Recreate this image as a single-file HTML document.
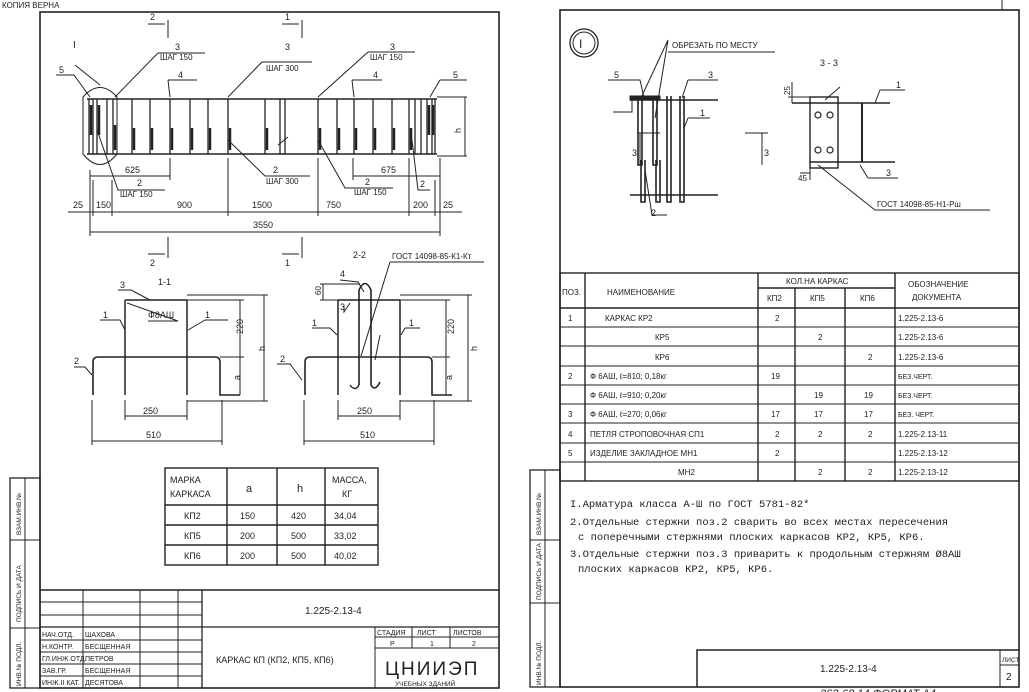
<!DOCTYPE html>
<html><head><meta charset="utf-8"><style>
html,body{margin:0;padding:0;background:#fff;}
svg{display:block;}
text{font-family:"Liberation Sans",sans-serif;fill:#222;}
.m{font-family:"Liberation Mono",monospace;}
</style></head><body>
<svg width="1029" height="692" viewBox="0 0 1029 692" xmlns="http://www.w3.org/2000/svg">
<rect width="1029" height="692" fill="#fff"/>
<g stroke="#222" fill="none" stroke-width="1">
<!-- LEFT SHEET FRAME -->
<rect x="40" y="12" width="459" height="676" stroke-width="1.6"/>
<rect x="10" y="478" width="30" height="210" stroke-width="1.3"/>
<line x1="25" y1="478" x2="25" y2="688"/>
<line x1="10" y1="540" x2="40" y2="540"/>
<line x1="10" y1="628" x2="40" y2="628"/>
<!-- title block -->
<line x1="40" y1="590" x2="499" y2="590" stroke-width="1.5"/>
<line x1="40" y1="602" x2="202" y2="602"/>
<line x1="40" y1="615" x2="202" y2="615"/>
<line x1="40" y1="627" x2="499" y2="627" stroke-width="1.3"/>
<line x1="40" y1="640" x2="202" y2="640"/>
<line x1="40" y1="652" x2="202" y2="652"/>
<line x1="40" y1="664" x2="202" y2="664"/>
<line x1="40" y1="676" x2="202" y2="676"/>
<line x1="83" y1="590" x2="83" y2="688"/>
<line x1="140" y1="590" x2="140" y2="688"/>
<line x1="178" y1="590" x2="178" y2="688"/>
<line x1="202" y1="590" x2="202" y2="688" stroke-width="1.3"/>
<line x1="375" y1="627" x2="375" y2="688"/>
<line x1="375" y1="637" x2="499" y2="637"/>
<line x1="375" y1="648" x2="499" y2="648"/>
<line x1="412" y1="627" x2="412" y2="648"/>
<line x1="450" y1="627" x2="450" y2="648"/>

<!-- MAIN ELEVATION -->
<line x1="87" y1="99" x2="437" y2="99" stroke-width="1.6"/>
<line x1="87" y1="154" x2="437" y2="154" stroke-width="1.6"/>
<g stroke-width="1.3">
<line x1="89" y1="99" x2="89" y2="154"/><line x1="93" y1="99" x2="93" y2="154"/>
<line x1="97" y1="99" x2="97" y2="154"/><line x1="107" y1="99" x2="107" y2="154"/>
<line x1="113" y1="99" x2="113" y2="154"/><line x1="132" y1="99" x2="132" y2="154"/>
<line x1="150" y1="99" x2="150" y2="154"/><line x1="170" y1="99" x2="170" y2="154"/>
<line x1="190" y1="99" x2="190" y2="154"/><line x1="208" y1="99" x2="208" y2="154"/>
<line x1="228" y1="99" x2="228" y2="154"/><line x1="265" y1="99" x2="265" y2="154"/>
<line x1="280" y1="99" x2="280" y2="154"/><line x1="285" y1="99" x2="285" y2="154"/>
<line x1="318" y1="99" x2="318" y2="154"/><line x1="337" y1="99" x2="337" y2="154"/>
<line x1="354" y1="99" x2="354" y2="154"/><line x1="373" y1="99" x2="373" y2="154"/>
<line x1="392" y1="99" x2="392" y2="154"/><line x1="409" y1="99" x2="409" y2="154"/>
<line x1="415" y1="99" x2="415" y2="154"/><line x1="421" y1="99" x2="421" y2="154"/>
<line x1="427" y1="99" x2="427" y2="154"/><line x1="432" y1="99" x2="432" y2="154"/>
<line x1="435" y1="99" x2="435" y2="154"/>
</g>
<g stroke-width="2.5">
<line x1="91" y1="105" x2="91" y2="135"/><line x1="99" y1="105" x2="99" y2="135"/>
<line x1="115" y1="125" x2="115" y2="150"/><line x1="134" y1="128" x2="134" y2="150"/>
<line x1="152" y1="128" x2="152" y2="150"/><line x1="172" y1="128" x2="172" y2="150"/>
<line x1="192" y1="128" x2="192" y2="150"/><line x1="210" y1="128" x2="210" y2="150"/>
<line x1="230" y1="128" x2="230" y2="150"/><line x1="267" y1="128" x2="267" y2="150"/>
<line x1="320" y1="128" x2="320" y2="150"/><line x1="339" y1="128" x2="339" y2="150"/>
<line x1="356" y1="128" x2="356" y2="150"/><line x1="375" y1="128" x2="375" y2="150"/>
<line x1="394" y1="128" x2="394" y2="150"/><line x1="411" y1="128" x2="411" y2="150"/>
<line x1="429" y1="105" x2="429" y2="135"/><line x1="433" y1="105" x2="433" y2="135"/>
</g>
<path d="M278 145 L288 137"/>
<path d="M83 97 Q100 78 117 97 L117 154 Q100 175 83 154 Z"/>
<!-- leaders -->
<path d="M56 75 L74 75 L90 97"/><path d="M75 65 L100 85"/>
<path d="M158 53 L205 53 M158 53 L115 97"/><path d="M168 80 L197 80 M168 80 L170 97"/>
<path d="M262 62 L312 62 M262 62 L228 97"/><path d="M368 52 L415 52 M368 52 L318 97"/>
<path d="M352 80 L382 80 M352 80 L354 97"/><path d="M440 80 L467 80 M440 80 L430 97"/>
<path d="M97 130 L118 190 L165 190"/><path d="M228 140 L265 176 L310 176"/>
<path d="M318 140 L345 188 L393 188"/><path d="M412 140 L418 190 L430 190"/>
<!-- dims -->
<path d="M90 176 L170 176 M90 170 L90 180 M170 158 L170 180"/>
<path d="M353 176 L440 176 M353 158 L353 180 M440 158 L440 180"/>
<path d="M437 97 L467 97 M437 156 L467 156 M465 97 L465 156"/>
<path d="M68 212 L462 212"/>
<path d="M90 180 L90 236 M93 180 L93 216 M112 180 L112 216 M228 158 L228 216 M318 158 L318 216 M409 158 L409 216 M435 180 L435 216 M440 180 L440 236"/>
<path d="M90 232 L440 232"/>
<!-- section marks -->
<path d="M168 20 L168 38 M302 20 L302 38 M168 237 L168 258 M302 237 L302 258"/>
<path d="M148 24 L165 24 M282 24 L299 24 M148 254 L165 254 M282 254 L299 254"/>

<!-- SECTION 1-1 -->
<line x1="125" y1="300" x2="187" y2="300" stroke-width="1.6"/>
<line x1="125" y1="300" x2="125" y2="395" stroke-width="1.5"/>
<line x1="187" y1="300" x2="187" y2="395" stroke-width="1.5"/>
<path d="M93 395 L93 362 Q93 357 98 357 L215 357 Q220 357 220 362 L220 395 L240 395" stroke-width="1.6"/>
<path d="M125 400 L125 420 M187 400 L187 420 M125 416 L187 416"/>
<path d="M92 400 L92 445 M222 400 L222 445 M92 441 L222 441"/>
<path d="M187 300 L244 300 M220 357 L244 357 M240 300 L240 395"/>
<path d="M187 295 L268 295 M187 401 L268 401 M264 295 L264 401"/>
<path d="M100 320 L120 320 L125 330"/><path d="M205 320 L228 320 M205 320 L188 330"/>
<path d="M74 367 L85 367 L92 375"/><path d="M118 290 L131 290 L150 300"/><path d="M148 321 L178 321 L127 303"/>

<!-- SECTION 2-2 -->
<line x1="338" y1="300" x2="400" y2="300" stroke-width="1.6"/>
<line x1="338" y1="300" x2="338" y2="395" stroke-width="1.5"/>
<line x1="400" y1="300" x2="400" y2="395" stroke-width="1.5"/>
<path d="M305 395 L305 362 Q305 357 310 357 L427 357 Q432 357 432 362 L432 395 L452 395" stroke-width="1.6"/>
<path d="M359 385 L359 290 Q365 277 371 290 L371 385 Q375 392 380 382" stroke-width="1.6"/>
<path d="M359 385 Q355 392 350 385" stroke-width="1.4"/>
<path d="M338 400 L338 420 M400 400 L400 420 M338 416 L400 416"/>
<path d="M304 400 L304 445 M434 400 L434 445 M304 441 L434 441"/>
<path d="M400 300 L450 300 M432 357 L450 357 M446 300 L446 395"/>
<path d="M400 295 L472 295 M400 401 L472 401 M468 295 L468 401"/>
<path d="M320 284 L360 284 M320 300 L340 300 M323 284 L323 300"/>
<path d="M340 280 L358 282 L364 292"/><path d="M344 306 L344 312 L350 303"/>
<path d="M312 328 L330 328 L337 335"/><path d="M405 328 L420 328 M405 328 L401 335"/>
<path d="M277 364 L290 364 L302 380"/>
<path d="M390 262 L484 262 M390 262 L361 356"/><path d="M375 360 L380 335"/>

<!-- KARKAS TABLE -->
<g stroke-width="1.4">
<rect x="165" y="468" width="213" height="97"/>
<line x1="165" y1="505" x2="378" y2="505"/><line x1="165" y1="525" x2="378" y2="525"/><line x1="165" y1="545" x2="378" y2="545"/>
<line x1="227" y1="468" x2="227" y2="565"/><line x1="277" y1="468" x2="277" y2="565"/><line x1="325" y1="468" x2="325" y2="565"/>
</g>

<!-- RIGHT SHEET -->
<rect x="560" y="10" width="459" height="677" stroke-width="1.6"/>
<line x1="1002" y1="0" x2="1002" y2="10"/>
<rect x="530" y="470" width="30" height="217" stroke-width="1.3"/>
<line x1="545" y1="470" x2="545" y2="687"/>
<line x1="530" y1="540" x2="560" y2="540"/>
<line x1="530" y1="603" x2="560" y2="603"/>
<!-- detail I -->
<circle cx="584" cy="43" r="14" stroke-width="1.3"/><circle cx="584" cy="43" r="11"/>
<path d="M668 52 L775 52 M668 40 L640 100 M668 40 L655 118"/>
<path d="M608 80 L640 80 L644 98"/><path d="M688 80 L718 80 M688 80 L682 98"/>
<path d="M688 118 L710 118 M688 118 L684 128"/>
<g stroke-width="1.6">
<line x1="630" y1="100" x2="718" y2="100"/><line x1="630" y1="195" x2="718" y2="195"/>
<path d="M638 98 L638 165 L642 165 L642 98 M641 160 L641 202 L645 202 L645 160"/>
<path d="M653 98 L653 165 L657 165 L657 98 M656 160 L656 202 L660 202 L660 160"/>
<path d="M667 96 L667 202 L671 202 L671 96"/>
<path d="M680 96 L680 202 L684 202 L684 96"/>
</g>
<rect x="630" y="96" width="30" height="4" fill="#222"/>
<path d="M613 112 L632 112 L632 100"/>
<path d="M637 133 L660 133 M640 133 L640 165"/><path d="M745 133 L768 133 M762 133 L762 165"/>
<path d="M645 170 L652 215 L667 215"/>
<!-- 3-3 -->
<rect x="810" y="97" width="28" height="71" stroke-width="1.4"/>
<line x1="838" y1="97" x2="838" y2="168"/>
<line x1="792" y1="103" x2="890" y2="103" stroke-width="1.6"/>
<line x1="810" y1="162" x2="895" y2="162" stroke-width="1.6"/>
<line x1="862" y1="103" x2="862" y2="162" stroke-width="2"/>
<g stroke-width="1.2">
<circle cx="818" cy="115" r="3"/><circle cx="830" cy="115" r="3"/><circle cx="818" cy="150" r="3"/><circle cx="830" cy="150" r="3"/>
</g>
<path d="M792 82 L792 103 M788 97 L810 97"/>
<path d="M800 173 L810 173 M810 165 L810 180"/>
<path d="M880 90 L905 90 M880 90 L875 103"/><path d="M868 178 L898 178 M868 178 L860 165"/>
<path d="M875 210 L990 210 M875 210 L818 165"/><path d="M840 87 L825 100"/>
<!-- SPEC TABLE -->
<g stroke-width="1.4">
<rect x="560" y="273" width="459" height="208"/>
<line x1="758" y1="288" x2="895" y2="288"/>
<line x1="560" y1="308" x2="1019" y2="308"/>
<line x1="585" y1="273" x2="585" y2="481"/>
<line x1="758" y1="273" x2="758" y2="481"/>
<line x1="795" y1="288" x2="795" y2="481"/>
<line x1="845" y1="288" x2="845" y2="481"/>
<line x1="895" y1="273" x2="895" y2="481"/>
</g>
<g stroke-width="1">
<line x1="560" y1="327" x2="1019" y2="327"/><line x1="560" y1="346" x2="1019" y2="346"/>
<line x1="560" y1="366" x2="1019" y2="366"/><line x1="560" y1="385" x2="1019" y2="385"/>
<line x1="560" y1="404" x2="1019" y2="404"/><line x1="560" y1="423" x2="1019" y2="423"/>
<line x1="560" y1="443" x2="1019" y2="443"/><line x1="560" y1="462" x2="1019" y2="462"/>
</g>
<!-- bottom stamp -->
<path d="M697 687 L697 650 L1019 650" stroke-width="1.5"/>
<line x1="1000" y1="650" x2="1000" y2="687"/>
<line x1="1000" y1="665" x2="1019" y2="665"/>
</g>

<!-- TEXT -->
<g font-size="9">
<text x="2" y="8" font-size="8">КОПИЯ ВЕРНА</text>
<text x="150" y="20">2</text><text x="285" y="20">1</text>
<text x="150" y="266">2</text><text x="285" y="266">1</text>
<text x="73" y="48" font-size="10">I</text>
<text x="59" y="73">5</text>
<text x="175" y="50">3</text><text x="160" y="60" font-size="8">ШАГ 150</text>
<text x="178" y="78">4</text>
<text x="285" y="50">3</text><text x="266" y="71" font-size="8">ШАГ 300</text>
<text x="390" y="50">3</text><text x="370" y="60" font-size="8">ШАГ 150</text>
<text x="373" y="78">4</text>
<text x="453" y="78">5</text>
<text x="452" y="130" transform="rotate(-90 458 127)">h</text>
<text x="125" y="173">625</text><text x="381" y="173">675</text>
<text x="137" y="186">2</text><text x="120" y="197" font-size="8">ШАГ 150</text>
<text x="273" y="173">2</text><text x="266" y="184" font-size="8">ШАГ 300</text>
<text x="365" y="185">2</text><text x="354" y="195" font-size="8">ШАГ 150</text>
<text x="420" y="187">2</text>
<text x="73" y="208">25</text><text x="96" y="208">150</text>
<text x="177" y="208">900</text><text x="252" y="208">1500</text>
<text x="326" y="208">750</text><text x="413" y="208">200</text><text x="443" y="208">25</text>
<text x="253" y="228">3550</text>
<text x="158" y="285">1-1</text><text x="120" y="288">3</text>
<text x="103" y="318">1</text><text x="148" y="318">Ф8АШ</text><text x="205" y="318">1</text>
<text x="74" y="364">2</text>
<text x="143" y="414">250</text><text x="146" y="438">510</text>
<text x="233" y="336" transform="rotate(-90 237 330)">220</text>
<text x="258" y="350" transform="rotate(-90 262 347)">h</text>
<text x="234" y="380" transform="rotate(-90 237 377)">a</text>
<text x="353" y="258">2-2</text>
<text x="392" y="259" font-size="8">ГОСТ 14098-85-К1-Кт</text>
<text x="340" y="277">4</text><text x="314" y="294" transform="rotate(-90 318 291)" font-size="8">60</text>
<text x="340" y="310">3</text>
<text x="312" y="326">1</text><text x="409" y="326">1</text>
<text x="280" y="362">2</text>
<text x="357" y="414">250</text><text x="360" y="438">510</text>
<text x="444" y="336" transform="rotate(-90 448 330)">220</text>
<text x="470" y="350" transform="rotate(-90 474 347)">h</text>
<text x="446" y="380" transform="rotate(-90 449 377)">a</text>
<!-- karkas table -->
<text x="170" y="483">МАРКА</text><text x="170" y="497">КАРКАСА</text>
<text x="246" y="492" font-size="11">a</text><text x="297" y="492" font-size="11">h</text>
<text x="332" y="483">МАССА,</text><text x="342" y="497">КГ</text>
<text x="184" y="519">КП2</text><text x="240" y="519">150</text><text x="291" y="519">420</text><text x="334" y="519">34,04</text>
<text x="184" y="539">КП5</text><text x="240" y="539">200</text><text x="291" y="539">500</text><text x="334" y="539">33,02</text>
<text x="184" y="559">КП6</text><text x="240" y="559">200</text><text x="291" y="559">500</text><text x="334" y="559">40,02</text>
<!-- title -->
<text x="305" y="614" font-size="10">1.225-2.13-4</text>
<g font-size="7">
<text x="42" y="637">НАЧ.ОТД.</text><text x="85" y="637">ШАХОВА</text>
<text x="42" y="649">Н.КОНТР.</text><text x="85" y="649">БЕСЩЕННАЯ</text>
<text x="42" y="661">ГЛ.ИНЖ.ОТД.</text><text x="85" y="661">ПЕТРОВ</text>
<text x="42" y="673">ЗАВ.ГР.</text><text x="85" y="673">БЕСЩЕННАЯ</text>
<text x="42" y="685">ИНЖ.II КАТ.</text><text x="85" y="685">ДЕСЯТОВА</text>
<text x="377" y="635">СТАДИЯ</text><text x="417" y="635">ЛИСТ</text><text x="453" y="635">ЛИСТОВ</text>
<text x="390" y="646">Р</text><text x="430" y="646">1</text><text x="472" y="646">2</text>
</g>
<text x="216" y="663" font-size="9">КАРКАС КП (КП2, КП5, КП6)</text>
<text x="385" y="675" font-size="19" letter-spacing="2">ЦНИИЭП</text>
<text x="395" y="686" font-size="6.5">УЧЕБНЫХ ЗДАНИЙ</text>
<g font-size="6.5">
<text transform="translate(21,535) rotate(-90)">ВЗАМ.ИНВ.№</text>
<text transform="translate(21,622) rotate(-90)">ПОДПИСЬ И ДАТА</text>
<text transform="translate(21,686) rotate(-90)">ИНВ.№ ПОДЛ.</text>
<text transform="translate(541,535) rotate(-90)">ВЗАМ.ИНВ.№</text>
<text transform="translate(541,600) rotate(-90)">ПОДПИСЬ И ДАТА</text>
<text transform="translate(541,685) rotate(-90)">ИНВ.№ ПОДЛ.</text>
</g>
<!-- right sheet -->
<text x="579" y="48" font-size="12">I</text>
<text x="672" y="48" font-size="8">ОБРЕЗАТЬ ПО МЕСТУ</text>
<text x="614" y="78">5</text><text x="708" y="78">3</text><text x="700" y="116">1</text>
<text x="632" y="156">3</text><text x="764" y="156">3</text><text x="651" y="216">2</text>
<text x="820" y="66">3 - 3</text>
<text x="783" y="94" font-size="8" transform="rotate(-90 787 91)">25</text>
<text x="896" y="88">1</text><text x="886" y="176">3</text>
<text x="798" y="181" font-size="8">45</text>
<text x="877" y="207" font-size="8">ГОСТ 14098-85-Н1-Рш</text>
<g font-size="8">
<text x="562" y="295">ПОЗ.</text><text x="607" y="295">НАИМЕНОВАНИЕ</text>
<text x="786" y="284">КОЛ.НА КАРКАС</text>
<text x="767" y="301">КП2</text><text x="810" y="301">КП5</text><text x="860" y="301">КП6</text>
<text x="908" y="287">ОБОЗНАЧЕНИЕ</text><text x="912" y="300">ДОКУМЕНТА</text>
<text x="568" y="321">1</text><text x="605" y="321">КАРКАС КР2</text><text x="775" y="321">2</text><text x="898" y="321">1.225-2.13-6</text>
<text x="655" y="340">КР5</text><text x="818" y="340">2</text><text x="898" y="340">1.225-2.13-6</text>
<text x="655" y="360">КР6</text><text x="868" y="360">2</text><text x="898" y="360">1.225-2.13-6</text>
<text x="568" y="379">2</text><text x="590" y="379">Ф 6АШ,  ℓ=810;  0,18кг</text><text x="771" y="379">19</text><text x="898" y="379" font-size="7">БЕЗ.ЧЕРТ.</text>
<text x="590" y="398">Ф 6АШ,  ℓ=910;  0,20кг</text><text x="814" y="398">19</text><text x="864" y="398">19</text><text x="898" y="398" font-size="7">БЕЗ.ЧЕРТ.</text>
<text x="568" y="417">3</text><text x="590" y="417">Ф 6АШ,  ℓ=270;  0,06кг</text><text x="771" y="417">17</text><text x="814" y="417">17</text><text x="864" y="417">17</text><text x="898" y="417" font-size="7">БЕЗ. ЧЕРТ.</text>
<text x="568" y="437">4</text><text x="590" y="437">ПЕТЛЯ СТРОПОВОЧНАЯ СП1</text><text x="775" y="437">2</text><text x="818" y="437">2</text><text x="868" y="437">2</text><text x="898" y="437">1.225-2.13-11</text>
<text x="568" y="456">5</text><text x="590" y="456">ИЗДЕЛИЕ ЗАКЛАДНОЕ МН1</text><text x="775" y="456">2</text><text x="898" y="456">1.225-2.13-12</text>
<text x="678" y="475">МН2</text><text x="818" y="475">2</text><text x="868" y="475">2</text><text x="898" y="475">1.225-2.13-12</text>
</g>
<g class="m" font-size="10.5" font-family="Liberation Mono">
<text x="570" y="507" class="m">I.Арматура класса А-Ш по ГОСТ 5781-82*</text>
<text x="570" y="525" class="m">2.Отдельные стержни поз.2 сварить во всех местах пересечения</text>
<text x="578" y="540" class="m">с поперечными стержнями плоских каркасов КР2, КР5, КР6.</text>
<text x="570" y="557" class="m">3.Отдельные стержни поз.3 приварить к продольным стержням Ø8АШ</text>
<text x="578" y="572" class="m">плоских каркасов КР2, КР5, КР6.</text>
</g>
<text x="820" y="672" font-size="10">1.225-2.13-4</text>
<text x="1002" y="662" font-size="6.5">ЛИСТ</text><text x="1006" y="680" font-size="10">2</text>
<text x="820" y="697" font-size="11" font-style="italic">263-68      14       ФОРМАТ А4</text>
</g>
</svg>
</body></html>
